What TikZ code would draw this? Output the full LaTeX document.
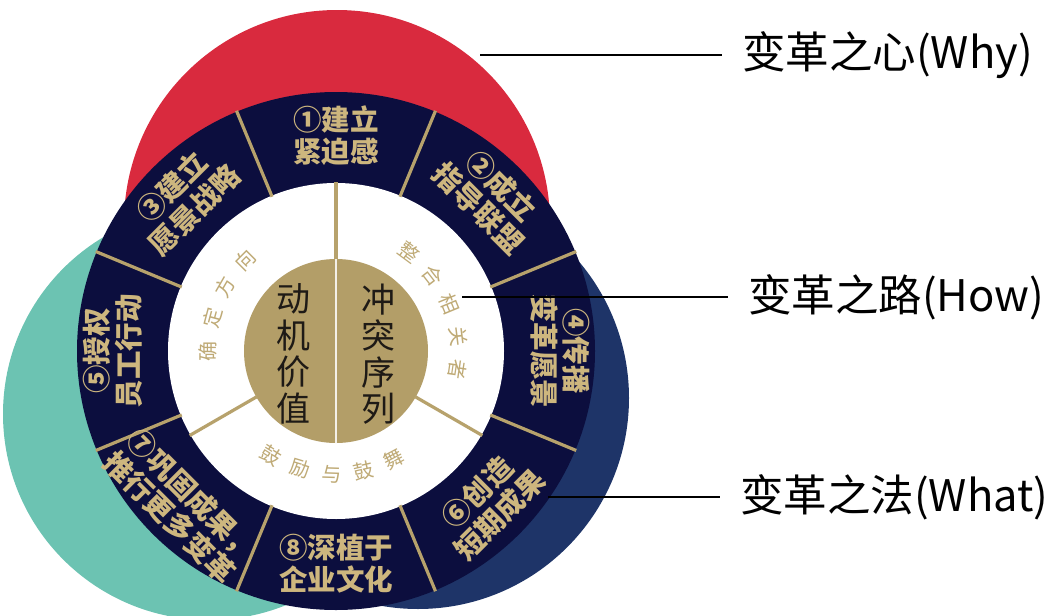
\documentclass[tikz,border=0pt]{standalone}
\usepackage{fontspec}
\setmainfont{Noto Sans CJK SC}
\definecolor{cred}{HTML}{D92A3E}
\definecolor{cteal}{HTML}{6CC3B2}
\definecolor{cblue}{HTML}{1E3468}
\definecolor{cnavy}{HTML}{0C0E3E}
\definecolor{cgold}{HTML}{B7A26C}
\definecolor{cgoldtxt}{HTML}{CDB67E}
\definecolor{cdisk}{HTML}{B39E68}
\definecolor{cinner}{HTML}{BFAA76}
\definecolor{cdark}{HTML}{1E1A16}
\tikzset{
  seg/.style={font=\bfseries\fontsize{28.5}{32}\selectfont, text=cgoldtxt, align=center, inner sep=0pt},
  ctr/.style={font=\fontsize{34}{36.5}\selectfont, text=cdark, align=center, inner sep=0pt},
  arcch/.style={font=\fontsize{20}{20}\selectfont, text=cinner, inner sep=0pt},
  lbl/.style={font=\fontsize{43.5}{46}\selectfont, text=black, inner sep=0pt, anchor=west},
  ln/.style={draw=black, line width=1.4pt},
  gline/.style={draw=cgold, line width=3.2pt},
}
\begin{document}
\begin{tikzpicture}[x=1pt, y=-1pt]
\useasboundingbox (0,0) rectangle (1050,616);
% background circles
\fill[cred] (337,223) circle (213pt);
\fill[cteal] (209,414) circle (206pt);
\fill[cblue] (418,398) circle (211pt);
\begin{scope}[shift={(336,351)}]
  \fill[cnavy] (0,0) circle (259pt);
  \fill[white] (0,0) circle (168pt);
  \fill[cdisk] (0,0) circle (92pt);
  % ring dividers
  \foreach \a in {22.5,67.5,...,337.5}
    \draw[gline] (\a:167pt) -- (\a:260pt);
  % inner dividers
  \draw[gline] (90:169pt) -- (90:91pt);
  \draw[gline] (210:91pt) -- (210:169pt);
  \draw[gline] (330:91pt) -- (330:169pt);
  \draw[draw=white!85!cdisk, line width=2.2pt] (90:92pt) -- (270:92pt);
  % segment texts
  \node[seg, rotate=0]   (s1) at (90:215pt)   {①建立\\紧迫感};
  \node[seg, rotate=-45] (s2) at (45:218pt)   {②成立\\指导联盟};
  \node[seg, rotate=45]  (s3) at (135:216pt)  {③建立\\愿景战略};
  \node[seg, rotate=-90] (s4) at (0:224pt)    {④传播\\变革愿景};
  \node[seg, rotate=90]  (s5) at (180:223pt)  {⑤授权\\员工行动};
  \node[seg, rotate=45]  (s6) at (-45:216pt)  {⑥创造\\短期成果};
  \node[seg, rotate=-45] (s7) at (-135:219pt) {⑦巩固成果，\\推行更多变革};
  \node[seg, rotate=0]   (s8) at (-90:213pt)  {⑧深植于\\企业文化};
  % inner arc texts
  \foreach \c/\a [count=\i] in {确/180,定/165,方/150,向/135}
    \node[arcch, rotate=\a-90] (l\i) at (\a:128pt) {\c};
  \foreach \c/\a [count=\i] in {整/53.5,合/38,相/22.5,关/7,者/-8.5}
    \node[arcch, rotate=\a-90] (r\i) at (\a:123pt) {\c};
  \foreach \c/\a [count=\i] in {鼓/-122,励/-107,与/-92,鼓/-77,舞/-62}
    \node[arcch, rotate=\a+90] (b\i) at (\a:123pt) {\c};
\end{scope}
% centre texts
\node[ctr] (m1) at (293,354) {动\\机\\价\\值};
\node[ctr] (m2) at (378,354) {冲\\突\\序\\列};
% labels
\node[lbl] (why) at (742,55) {变革之心(Why)};
\node[lbl] (how) at (748,297) {变革之路(How)};
\node[lbl] (what) at (740,497) {变革之法(What)};
\coordinate (whyp) at (480,55);
\coordinate (howp) at (462,297);
\coordinate (whatp) at (548,497);
\draw[ln] (whyp) -- ([xshift=-20pt]why.west);
\draw[ln] (howp) -- ([xshift=-20pt]how.west);
\draw[ln] (whatp) -- ([xshift=-20pt]what.west);
\end{tikzpicture}
\end{document}
